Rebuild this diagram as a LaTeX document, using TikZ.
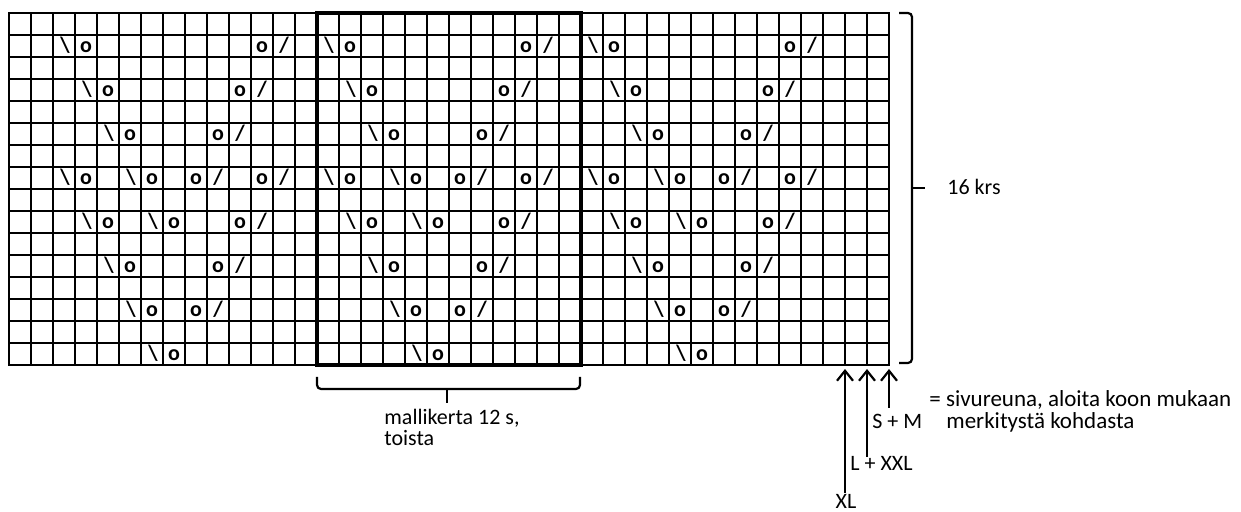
\documentclass[tikz,border=0pt]{standalone}
\usepackage{fontspec}
\setmainfont{Carlito}
\usetikzlibrary{arrows.meta}
\begin{document}
\begin{tikzpicture}[x=0.5pt,y=-0.5pt,
  gridline/.style={line width=1.2pt, line cap=rect},
  boldbox/.style={line width=2.4pt, line cap=rect},
  sym/.style={font=\fontsize{11}{12}\selectfont\bfseries, inner sep=0pt, anchor=base},
  lbl/.style={font=\fontsize{11}{12}\selectfont, inner sep=0pt, anchor=base west},
  note/.style={font=\fontsize{11.5}{12}\selectfont, inner sep=0pt, anchor=base west},
  bracepath/.style={line width=1.1pt, rounded corners=2pt},
  sizearrow/.style={line width=1.1pt, -{Straight Barb[length=5pt,width=8pt]}}
]
\useasboundingbox (0,0) rectangle (1241,512);
% grid
\foreach \i in {0,...,40} \draw[gridline] (9+22*\i,13) -- (9+22*\i,365);
\foreach \j in {0,...,16} \draw[gridline] (9,13+22*\j) -- (889,13+22*\j);
% pattern repeat box
\draw[boldbox] (317,13) rectangle (581,365);
% symbols: backslash followed by o
\foreach \r/\j in {1/0,3/1,5/2,7/0,7/3,9/1,9/4,11/2,13/3,15/4}{
  \foreach \k in {0,1,2}{
    \node[sym] (b-\r-\j-\k) at ({21+22*(2+12*\k+\j)},{31+22*\r}) {\textbackslash};
    \node[sym] (ob-\r-\j-\k) at ({20+22*(3+12*\k+\j)},{31+22*\r}) {o};
  }
}
% symbols: o followed by slash
\foreach \r/\j in {1/9,3/8,5/7,7/6,7/9,9/8,11/7,13/6}{
  \foreach \k in {0,1,2}{
    \node[sym] (os-\r-\j-\k) at ({20+22*(2+12*\k+\j)},{31+22*\r}) {o};
    \node[sym] (s-\r-\j-\k) at ({20+22*(3+12*\k+\j)},{31+22*\r}) {/};
  }
}
% right brace
\draw[bracepath] (899,13) -- (912,13) -- (912,363) -- (899,363);
\coordinate (rbmid) at (912,188);
\coordinate (rbtip) at (925,188);
\draw[line width=1.4pt] (rbmid) -- (rbtip);
\node[lbl] (krs) at (947,195) {16 krs};
% bottom brace
\draw[bracepath] (317,377) -- (317,389) -- (580,389) -- (580,377);
\coordinate (bbmid) at (447,389);
\coordinate (bbtip) at (447,403);
\draw[line width=1.4pt] (bbmid) -- (bbtip);
\node[lbl] (mk1) at (384,425) {mallikerta 12 s,};
\node[lbl] (mk2) at (384,446) {toista};
% size arrows
\coordinate (smfrom) at (889,408);
\coordinate (smto) at (889,369);
\coordinate (lxfrom) at (867,457);
\coordinate (lxto) at (867,369);
\coordinate (xlfrom) at (845,493);
\coordinate (xlto) at (845,369);
\draw[sizearrow] (smfrom) -- (smto);
\draw[sizearrow] (lxfrom) -- (lxto);
\draw[sizearrow] (xlfrom) -- (xlto);
\node[lbl] (sm) at (872,429) {S + M};
\node[lbl] (lx) at (850,471) {L + XXL};
\node[lbl, anchor=base] (xl) at (846,509) {XL};
\node[note] (eq1) at (929,407) {= sivureuna, aloita koon mukaan};
\node[note] (eq2) at (946,429) {merkitystä kohdasta};
\end{tikzpicture}
\end{document}
